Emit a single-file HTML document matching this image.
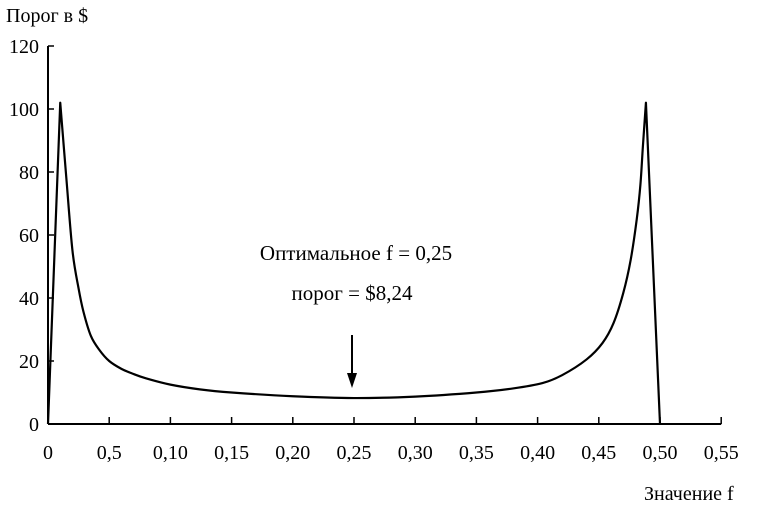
<!DOCTYPE html>
<html><head><meta charset="utf-8"><style>
html,body{margin:0;padding:0;background:#fff;}
svg{display:block;font-family:"Liberation Serif",serif;}
</style></head><body>
<svg id="chart" width="776" height="506" viewBox="0 0 776 506">
<text x="6" y="22" font-size="20">Порог в $</text>
<text x="644" y="500" font-size="20">Значение f</text>
<g id="axes"></g>
<g id="series"></g>
<text x="356" y="260" font-size="21" text-anchor="middle">Оптимальное f = 0,25</text>
<text x="352" y="300" font-size="21" text-anchor="middle">порог = $8,24</text>
<g>
<line x1="352" y1="335" x2="352" y2="383" stroke="#000" stroke-width="2"/>
<polygon points="347,373 357,373 352,388" fill="#000"/>
</g>
</svg>
<script>
const xTicks=[0,0.05,0.10,0.15,0.20,0.25,0.30,0.35,0.40,0.45,0.50,0.55];
const xTickLabels=["0","0,5","0,10","0,15","0,20","0,25","0,30","0,35","0,40","0,45","0,50","0,55"];
const yTicks=[0,20,40,60,80,100,120];
const yTickLabels=["0","20","40","60","80","100","120"];
const fValues=[0.01,0.015,0.02,0.025,0.029,0.035,0.042,0.05,0.06,0.069,0.08,0.10,0.124,0.15,0.20,0.25,0.30,0.35,0.38,0.404,0.42,0.44,0.453,0.462,0.47,0.476,0.481,0.484,0.486,0.4885];
const thresholdValues=[102,78,55,43,35.6,28,23.5,20,17.5,16,14.5,12.5,11,10,8.8,8.24,8.7,10,11.3,13,15.5,20.5,25.7,32,41.6,52,65,76,88,102];
const leftEdge=[[0,0],[0.01,102]];
const rightEdge=[[0.4885,102],[0.50,0]];
const X0=48,XS=61.2/0.05,Y0=424,YS=378/120;
const sx=v=>X0+v*XS, sy=v=>Y0-v*YS;
const NS="http://www.w3.org/2000/svg";
const axes=document.getElementById('axes');
function mk(t,a,p){const e=document.createElementNS(NS,t);for(const k in a)e.setAttribute(k,a[k]);p.appendChild(e);return e;}
const xa=mk('line',{x1:sx(0),y1:sy(0),x2:sx(0.55),y2:sy(0),stroke:'#000','stroke-width':2},axes);


const ya=mk('line',{x1:sx(0),y1:sy(0),x2:sx(0),y2:sy(120),stroke:'#000','stroke-width':2},axes);


xTicks.forEach((v,i)=>{
 if(i>0){const t=mk('line',{x1:sx(v),y1:sy(0),x2:sx(v),y2:sy(0)-7,stroke:'#000','stroke-width':1.5},axes);
 
 }
 const l=mk('text',{x:sx(v),y:459,'font-size':20,'text-anchor':'middle'},axes);
 l.textContent=xTickLabels[i];
 
 
});
yTicks.forEach((v,i)=>{
 const t=mk('line',{x1:sx(0),y1:sy(v),x2:sx(0)+6,y2:sy(v),stroke:'#000','stroke-width':1.5},axes);
 
 
 const l=mk('text',{x:39,y:sy(v)+7,'font-size':20,'text-anchor':'end'},axes);
 l.textContent=yTickLabels[i];
 
 
});
const P=fValues.map((f,i)=>[sx(f),sy(thresholdValues[i])]);
let d='M'+sx(leftEdge[0][0])+','+sy(leftEdge[0][1])+' L'+P[0][0]+','+P[0][1];
for(let i=0;i<P.length-1;i++){
 const p0=P[Math.max(0,i-1)],p1=P[i],p2=P[i+1],p3=P[Math.min(P.length-1,i+2)];
 const c1=[p1[0]+(p2[0]-p0[0])/6,p1[1]+(p2[1]-p0[1])/6];
 const c2=[p2[0]-(p3[0]-p1[0])/6,p2[1]-(p3[1]-p1[1])/6];
 d+=' C'+c1.join(',')+' '+c2.join(',')+' '+p2.join(',');
}
d+=' L'+sx(rightEdge[1][0])+','+sy(rightEdge[1][1]);
const line=mk('path',{d:d,fill:'none',stroke:'#000','stroke-width':2.2,'stroke-linejoin':'round'},document.getElementById('series'));


</script>
</body></html>
